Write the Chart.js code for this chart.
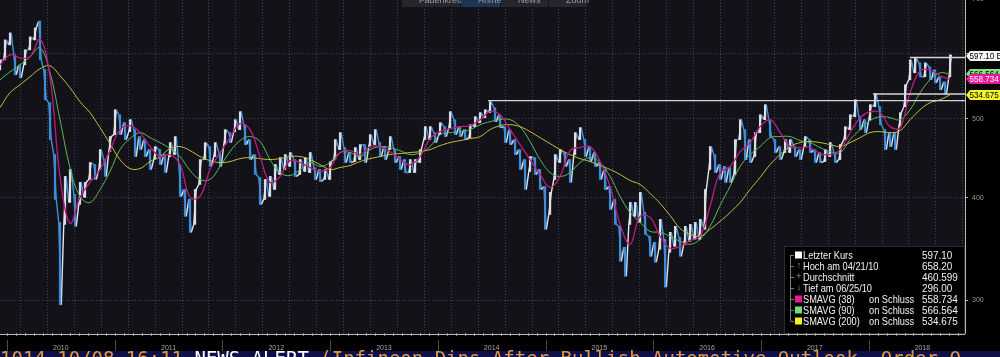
<!DOCTYPE html>
<html><head><meta charset="utf-8">
<script src="https://cdn.jsdelivr.net/npm/chart.js@4.4.0/dist/chart.umd.min.js"></script>
<style>html,body{margin:0;padding:0;background:#000;overflow:hidden}canvas{display:block}</style>
</head><body><canvas id="c" width="1000" height="357"></canvas>
<script>
// ---- data ----
const periodStart = 2009.935;   // decimal year of the first sample
const periodStep = 0.04643;     // one sample ≈ 17 calendar days
const highs = [590.2,624.2,636.6,598.5,581.9,607.0,629.5,645.6,658.2,573.8,523.0,451.9,373.3,424.9,433.3,403.9,417.8,417.8,441.9,439.4,
458.3,445.6,475.4,512.8,505.6,494.4,498.6,484.8,475.4,471.4,458.3,462.2,458.3,451.9,467.4,475.4,439.4,409.6,398.3,409.6,
445.6,467.4,462.2,467.4,454.5,484.8,480.7,498.6,509.9,491.6,471.4,451.9,423.7,421.3,424.9,439.4,448.1,451.9,454.5,445.6,
445.6,448.1,454.5,435.7,433.3,433.3,443.1,471.4,480.7,460.9,454.5,460.9,464.8,464.8,478.0,484.8,467.4,462.2,475.4,458.3,
449.4,445.6,445.6,445.6,458.3,488.9,488.9,480.7,494.4,488.9,509.9,498.6,488.9,484.8,491.6,502.8,508.5,512.8,524.5,515.7,
505.6,488.9,484.8,471.4,458.3,445.6,449.4,448.1,433.3,413.1,406.2,451.9,458.3,454.5,445.6,480.7,487.5,471.4,462.2,454.5,
441.9,433.3,413.1,398.3,369.2,348.1,394.9,394.9,406.2,383.9,358.9,352.9,376.5,355.9,363.0,369.2,357.9,369.2,371.2,373.3,
376.5,409.6,462.2,451.9,439.4,437.0,435.7,471.4,498.6,484.8,471.4,480.7,505.6,520.1,498.6,471.4,462.2,471.4,471.4,462.2,
458.3,475.4,471.4,458.3,454.5,458.3,467.4,454.5,464.8,488.9,505.6,527.4,502.8,498.6,520.1,536.4,517.2,484.8,480.7,480.7,
508.5,550.1,590.2,593.5,585.2,585.2,578.6,573.8,562.6,554.8,598.5];
const lows = [573.8,590.2,615.5,565.8,561.1,581.9,607.0,624.2,590.2,527.4,471.4,398.3,296.0,371.2,394.9,369.2,392.7,400.6,421.3,421.3,
433.3,424.9,455.7,478.0,478.0,471.4,482.1,449.4,458.3,449.4,433.3,445.6,439.4,429.6,449.4,451.9,401.6,379.7,363.0,371.2,
415.4,445.6,437.0,449.4,437.0,464.8,467.4,482.1,484.8,464.8,445.6,427.2,392.7,398.3,401.6,409.6,427.2,433.3,437.0,424.9,
427.2,430.9,429.6,421.3,418.9,421.3,421.3,445.6,458.3,441.9,441.9,443.1,445.6,441.9,462.2,464.8,449.4,445.6,458.3,441.9,
433.3,429.6,429.6,429.6,441.9,471.4,471.4,467.4,478.0,475.4,487.5,478.0,475.4,471.4,474.0,488.9,494.4,501.4,508.5,495.8,
487.5,467.4,464.8,451.9,433.3,409.6,430.9,427.2,409.6,366.1,381.8,421.3,441.9,437.0,417.8,451.9,471.4,449.4,443.1,437.0,
421.3,409.6,387.2,371.2,334.6,320.8,371.2,379.7,373.3,361.0,339.3,333.7,346.1,311.1,343.2,349.0,339.3,351.0,353.9,355.9,
355.9,366.1,433.3,429.6,421.3,417.8,417.8,427.2,471.4,445.6,441.9,449.4,480.7,498.6,475.4,454.5,445.6,454.5,454.5,449.4,
445.6,462.2,454.5,441.9,441.9,443.1,449.4,441.9,445.6,471.4,484.8,502.8,484.8,480.7,498.6,517.2,491.6,458.3,462.2,458.3,
488.9,517.2,557.9,569.0,562.6,562.6,557.9,553.2,542.4,534.9,562.6];
// moving averages, one value every second sample
const ma38 = [581.9,598.5,593.5,595.2,625.9,562.6,424.9,372.3,400.6,417.8,433.3,457.0,484.8,490.2,480.7,462.2,449.4,451.9,439.4,400.6,
401.6,433.3,454.5,474.0,493.0,484.8,449.4,417.8,424.9,444.3,441.9,435.7,430.9,435.7,454.5,457.0,451.9,462.2,462.2,455.7,
445.6,439.4,449.4,472.7,482.1,486.1,488.9,490.2,498.6,509.9,505.6,484.8,464.8,445.6,427.2,411.9,424.9,457.0,460.9,462.2,
443.1,413.1,371.2,351.0,379.7,378.6,359.0,347.1,349.0,354.9,359.0,390.5,429.6,437.0,455.7,467.4,488.9,498.6,480.7,462.2,
460.9,460.9,453.2,451.9,458.3,480.7,501.4,509.9,508.5,488.9,487.5,537.9,572.2,573.8,564.2,558.7];
const ma90 = [557.9,570.6,581.9,595.2,610.4,569.0,498.6,435.7,401.6,394.9,409.6,430.9,458.3,472.7,480.7,474.0,467.4,459.6,449.4,432.1,
421.3,421.3,437.0,455.7,470.1,475.4,468.8,445.6,429.6,426.0,433.3,441.9,437.0,441.9,454.5,454.5,449.4,458.3,462.2,460.9,
457.0,451.9,454.5,462.2,478.0,480.7,482.1,484.8,491.6,495.8,498.6,498.6,488.9,468.8,445.6,429.6,424.9,429.6,441.9,448.1,
441.9,424.9,401.6,383.9,373.3,364.0,363.0,359.0,353.9,351.0,355.9,369.2,391.6,413.1,437.0,451.9,462.2,474.0,475.4,475.4,
470.1,467.4,460.9,455.7,454.5,471.4,484.8,497.2,502.8,501.4,498.6,512.8,537.9,557.9,569.0,566.6];
const ma200 = [515.7,537.9,550.1,562.6,575.4,580.3,564.2,545.5,524.5,508.5,487.5,466.1,445.6,434.5,434.5,443.1,449.4,459.6,462.2,457.0,
449.4,444.3,441.9,443.1,446.8,448.1,446.8,445.6,446.8,449.4,449.4,445.6,439.4,433.3,435.7,438.2,443.1,446.8,449.4,451.9,
453.2,454.5,455.7,458.3,463.5,467.4,470.1,472.7,475.4,484.8,490.2,491.6,488.9,482.1,474.0,466.1,458.3,451.9,446.8,443.1,
438.2,433.3,427.2,420.1,415.4,405.0,393.8,380.7,367.1,361.0,359.0,366.1,374.4,383.9,394.9,409.6,423.7,439.4,451.9,462.2,
467.4,468.8,467.4,464.8,462.2,467.4,474.0,480.7,482.1,480.7,483.4,498.6,512.8,523.0,527.4,534.7];
const yTicks = [300, 400, 500, 600, 700];
const yearLabels = ['2010','2011','2012','2013','2014','2015','2016','2017','2018'];
const levelStarts = [2014.466, 2018.041, 2018.384];
const levelValues = [526, 536, 594];
const lastPrice = 597.10;
const legendNames = ['Letzter Kurs','Hoch am 04/21/10','Durchschnitt','Tief am 06/25/10','SMAVG (38)','SMAVG (90)','SMAVG (200)'];
const legendValues = ['597.10','658.20','460.599','296.00','558.734','566.564','534.675'];
const toolbarItems = ['Fadenkreuz','Anmerken','News','Zoom'];
const tickerText = ['1014 10/08 16:11 ','NEWS ALERT ','(Infineon Dips After Bullish Automotive Outlook, Order Q'];

// ---- build ----
const xMin = periodStart, xMax = 2018.895;
const times = highs.map((_, i) => periodStart + i * periodStep);
const mids = highs.map((h, i) => (h + lows[i]) / 2);
const up = mids.map((m, i) => i === 0 || m >= mids[i - 1]);
const barData = times.map((t, i) => ({x: t, y: [lows[i], highs[i]]}));
const q = periodStep / 4;
const zig = [];
times.forEach((t, i) => {
  if (up[i]) { zig.push({x: t - q, y: lows[i]}); zig.push({x: t + q, y: highs[i]}); }
  else { zig.push({x: t - q, y: highs[i]}); zig.push({x: t + q, y: lows[i]}); }
});
const maPts = arr => arr.map((v, i) => ({x: periodStart + Math.min(2 * i, highs.length - 1) * periodStep, y: v}));
const levelSets = levelStarts.map((s, i) => ({
  type: 'line', data: [{x: s, y: levelValues[i]}, {x: xMax, y: levelValues[i]}],
  borderColor: '#d4d4d4', borderWidth: 1.3, pointRadius: 0, order: 0
}));
const WHITE = '#e2e5ee', BLUE = '#3f8fdc';

const FONT = '"Liberation Sans", Arial, sans-serif';

function squeezeText(c, text, x, y, sx) {
  c.save(); c.translate(x, y); c.scale(sx, 1); c.fillText(text, 0, 0); c.restore();
}

const deco = {
  id: 'deco',
  beforeDraw(chart) {
    const c = chart.ctx, a = chart.chartArea;
    c.save();
    c.fillStyle = '#000'; c.fillRect(0, 0, chart.width, chart.height);
    c.fillStyle = '#131218'; c.fillRect(a.left, a.top, a.right - a.left, a.bottom - a.top);
    c.restore();
  },
  afterDraw(chart) {
    const c = chart.ctx, a = chart.chartArea, xs = chart.scales.x, ys = chart.scales.y;
    c.save();
    // legend box
    const lx = 784, ly = 246;
    c.fillStyle = '#000'; c.fillRect(lx, ly, a.right - lx, a.bottom - ly);
    c.strokeStyle = '#2c2c2c'; c.lineWidth = 1;
    c.strokeRect(lx + 0.5, ly + 0.5, a.right - lx - 1, a.bottom - ly - 1);
    const rowY = i => 255 + i * 11;
    const sw = ['#ffffff', null, null, null, '#e8189a', '#6fe06f', '#f2f22a'];
    const sym = [null, '\u2191', '+', '\u2193', null, null, null];
    c.strokeStyle = '#7a7a7a';
    c.beginPath(); c.moveTo(790.5, rowY(0)); c.lineTo(790.5, rowY(6)); c.stroke();
    for (let i = 0; i < 7; i++) {
      const y = rowY(i);
      c.beginPath(); c.moveTo(790.5, y + 0.5); c.lineTo(794, y + 0.5); c.stroke();
      if (sw[i]) { c.fillStyle = sw[i]; c.fillRect(795, y - 3.5, 7, 7); }
      else { c.fillStyle = '#9a9a9a'; c.font = '9px ' + FONT; c.textBaseline = 'middle'; c.textAlign = 'center'; c.fillText(sym[i], 799, y); }
      c.fillStyle = '#f2f2f2'; c.font = '11px ' + FONT; c.textAlign = 'left'; c.textBaseline = 'middle';
      squeezeText(c, legendNames[i], 803, y + 0.5, 0.84);
      if (i >= 4) squeezeText(c, 'on Schluss', 869, y + 0.5, 0.84);
      squeezeText(c, legendValues[i], 922, y + 0.5, 0.9);
    }
    // axis lines
    c.strokeStyle = '#b8b8b8'; c.lineWidth = 1;
    c.beginPath(); c.moveTo(a.left, a.bottom + 0.5); c.lineTo(a.right, a.bottom + 0.5); c.stroke();
    c.beginPath(); c.moveTo(a.right + 0.5, a.top); c.lineTo(a.right + 0.5, a.bottom); c.stroke();
    // monthly ticks
    c.strokeStyle = '#9a9a9a';
    for (let y = 2009; y <= 2019; y++) for (let m = 0; m < 12; m++) {
      const t = y + m / 12; if (t < xMin || t > xMax) continue;
      const px = Math.round(xs.getPixelForValue(t)) + 0.5;
      c.beginPath(); c.moveTo(px, a.bottom - 1); c.lineTo(px, a.bottom + 2); c.stroke();
    }
    // year separators and labels
    c.strokeStyle = '#4a4a4a';
    c.fillStyle = '#a8a8a8'; c.font = '7px ' + FONT; c.textAlign = 'center'; c.textBaseline = 'middle';
    yearLabels.forEach((lab) => {
      const y0 = +lab;
      const px = Math.round(xs.getPixelForValue(y0)) + 0.5;
      c.beginPath(); c.moveTo(px, a.bottom + 6); c.lineTo(px, 351); c.stroke();
      c.fillText(lab, xs.getPixelForValue(y0 + 0.5), 348);
    });
    // right tags
    const tag = (v, bg, fg, text) => {
      const y = Math.round(ys.getPixelForValue(v));
      c.fillStyle = bg;
      c.beginPath(); c.moveTo(966, y); c.lineTo(970, y - 5); c.lineTo(1000, y - 5); c.lineTo(1000, y + 5); c.lineTo(970, y + 5); c.closePath(); c.fill();
      c.fillStyle = fg; c.font = '9.5px ' + FONT; c.textAlign = 'left'; c.textBaseline = 'middle';
      squeezeText(c, text, 969.5, y + 0.5, 0.85);
    };
    tag(566.564, '#7ee27e', '#000', legendValues[5]);
    tag(558.734, '#e8189a', '#fff', legendValues[4]);
    tag(534.675, '#f4f42c', '#000', legendValues[6]);
    tag(lastPrice, '#f4f4f4', '#000', lastPrice.toFixed(2) + ' BP');
    // toolbar
    const tb = [[402, 460, '#26262c'], [461, 500, '#1d3550'], [501, 548, '#26262c'], [549, 587, '#26262c']];
    c.font = '9px ' + FONT; c.textBaseline = 'middle'; c.textAlign = 'left';
    tb.forEach((b, i) => {
      c.fillStyle = b[2]; c.fillRect(b[0], 0, b[1] - b[0], 7);
      c.fillStyle = '#9a9aa4'; c.fillText(toolbarItems[i], b[0] + 17, 1);
    });
    // ticker
    c.fillStyle = '#101048'; c.fillRect(0, 351, 1000, 6);
    c.font = '19px "DejaVu Sans Mono", "Liberation Mono", monospace'; c.textBaseline = 'alphabetic'; c.textAlign = 'left';
    let tx = 0;
    const cols = ['#e09a3c', '#ffffff', '#e09a3c'];
    tickerText.forEach((s, i) => { c.fillStyle = cols[i]; c.fillText(s, tx, 365); tx += c.measureText(s).width; });
    c.restore();
  }
};

new Chart(document.getElementById('c'), {
  data: {
    datasets: [
      {type: 'line', data: zig, borderColor: BLUE, borderWidth: 1.4, pointRadius: 0, tension: 0, order: 4,
       segment: {borderColor: s => (s.p1.parsed.y > s.p0.parsed.y ? WHITE : BLUE)}},
      {type: 'bar', data: barData, backgroundColor: up.map(u => u ? 'rgba(226,229,238,0.95)' : 'rgba(63,143,220,0.95)'), barThickness: 1.6, order: 3, grouped: false},
      {type: 'line', data: maPts(ma200), borderColor: '#c2c23a', borderWidth: 1, pointRadius: 0, tension: 0.4, order: 2},
      {type: 'line', data: maPts(ma90), borderColor: '#58bc58', borderWidth: 1, pointRadius: 0, tension: 0.4, order: 2},
      {type: 'line', data: maPts(ma38), borderColor: '#c01a80', borderWidth: 1.3, pointRadius: 0, tension: 0.4, order: 1},
      ...levelSets
    ]
  },
  options: {
    responsive: false, animation: false, events: [],
    layout: {padding: 0},
    plugins: {legend: {display: false}, tooltip: {enabled: false}},
    scales: {
      x: {
        type: 'linear', min: xMin, max: xMax, offset: false,
        afterBuildTicks: s => { const t = []; for (let v = 2010; v <= 2018.76; v += 0.25) t.push({value: v}); s.ticks = t; },
        afterFit: s => { s.height = 23; s.paddingLeft = 0; s.paddingRight = 0; },
        ticks: {display: false},
        grid: {color: '#45454f', drawTicks: false, lineWidth: 1},
        border: {display: false, dash: [1, 2]}
      },
      y: {
        type: 'logarithmic', position: 'right', min: 272.6, max: 698.5,
        afterBuildTicks: s => { s.ticks = yTicks.map(v => ({value: v})); },
        afterFit: s => { s.width = 35; s.paddingTop = 0; s.paddingBottom = 0; },
        ticks: {color: '#9a9a9a', font: {size: 7, family: FONT}, padding: 4, callback: v => String(v)},
        grid: {color: '#45454f', tickColor: '#bbbbbb', tickLength: 3, lineWidth: 1},
        border: {display: false, dash: [1, 2]}
      }
    }
  },
  plugins: [deco]
});
</script>
</body></html>
